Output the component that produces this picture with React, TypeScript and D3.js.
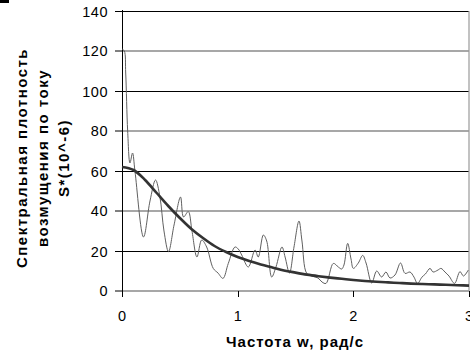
import * as d3 from 'd3'

// измеренная спектральная плотность (частота, значение)
const measW = [0, 0.02, 0.032, 0.049, 0.069, 0.091, 0.112, 0.186, 0.242, 0.29, 0.328, 0.363, 0.402, 0.45, 0.506, 0.532, 0.573, 0.605, 0.648, 0.689, 0.732, 0.789, 0.83, 0.873, 0.919, 0.977, 1.005, 1.035, 1.092, 1.15, 1.178, 1.222, 1.251, 1.294, 1.331, 1.383, 1.41, 1.448, 1.487, 1.53, 1.556, 1.597, 1.643, 1.695, 1.729, 1.764, 1.827, 1.87, 1.899, 1.919, 1.951, 1.98, 2.0, 2.043, 2.081, 2.11, 2.159, 2.202, 2.245, 2.282, 2.317, 2.36, 2.408, 2.447, 2.49, 2.524, 2.555, 2.594, 2.623, 2.663, 2.689, 2.732, 2.758, 2.792, 2.827, 2.875, 2.922, 2.952, 2.994]
const measS = [121, 120, 109, 80, 64, 69, 60, 27, 45, 55.5, 47, 30, 19.7, 33, 47, 37, 39.7, 30, 17, 25.5, 22, 11.3, 9, 6.3, 13.8, 22, 21, 18, 12, 20.5, 17, 28, 25, 7, 12, 22, 17, 9, 22, 35, 25, 8.8, 7.5, 6.5, 4.5, 3.8, 13.8, 12, 11, 13, 23.8, 16, 11.3, 14, 17.8, 14, 4, 10, 7, 9.5, 6.5, 8, 14, 8.8, 9.5, 7, 3.8, 7, 8.5, 11.3, 9.5, 10.5, 11.3, 9.5, 7.5, 3.8, 9.7, 7.5, 10.5]

// теоретическая кривая
const theoryW = [0, 0.1, 0.2, 0.3, 0.4, 0.5, 0.6, 0.7, 0.8, 0.9, 1.0, 1.1, 1.2, 1.3, 1.4, 1.5, 1.6, 1.7, 1.8, 1.9, 2.0, 2.1, 2.2, 2.3, 2.4, 2.5, 2.6, 2.7, 2.8, 2.9, 3.0]
const theoryS = [62, 60.5, 55.5, 49, 42.5, 36.5, 31, 26.5, 22.5, 19.5, 17, 15, 13.3, 11.8, 10.3, 9.2, 8.2, 7.4, 6.7, 6.1, 5.5, 5, 4.6, 4.3, 4, 3.7, 3.5, 3.3, 3.1, 2.9, 2.7]

const yTicks = [0, 20, 40, 60, 80, 100, 120, 140]
const xTicks = [0, 1, 2, 3]
const yTitle = ['Спектральная плотность', 'возмущения по току', 'S*(10^-6)']
const xTitle = 'Частота w, рад/с'

export default function App() {
  const left = 122, right = 469, top = 11, bottom = 291
  const x = d3.scaleLinear().domain([0, 3]).range([left, right])
  const y = d3.scaleLinear().domain([0, 140]).range([bottom, top])

  const meas = measW.map((w, i) => [w, measS[i]] as [number, number])
  const theory = theoryW.map((w, i) => [w, theoryS[i]] as [number, number])

  const measLine = d3.line<[number, number]>()
    .x(d => x(d[0])).y(d => y(d[1]))
    .curve(d3.curveCatmullRom.alpha(0.5))
  const theoryLine = d3.line<[number, number]>()
    .x(d => x(d[0])).y(d => y(d[1]))
    .curve(d3.curveMonotoneX)

  const font = '"Liberation Sans", Arial, sans-serif'

  return (
    <svg width={470} height={355} style={{ position: 'absolute', left: 0, top: 0, background: '#fff' }}
      fontFamily={font}>
      <rect x={0} y={0} width={9} height={3} fill="#000" />

      {yTicks.map(t => {
        const gray = t % 40 === 0
        const yy = Math.round(y(t)) + (gray ? 0 : 0.5)
        return (
          <g key={t}>
            <line x1={left} x2={right} y1={yy} y2={yy}
              stroke={gray ? '#8a8a8a' : '#000'} strokeWidth={gray ? 1.4 : 1} />
            <line x1={left - 7} x2={left} y1={yy} y2={yy} stroke="#000" />
            <text x={108} y={yy + 5} textAnchor="end" fontSize={14.5} letterSpacing={0.5}>{t}</text>
          </g>
        )
      })}
      <line x1={right} x2={right} y1={top} y2={bottom} stroke="#999" strokeWidth={1.2} />
      <line x1={left + 0.5} x2={left + 0.5} y1={top - 1} y2={bottom + 1} stroke="#000" />

      {xTicks.map(t => (
        <g key={t}>
          <line x1={Math.round(x(t)) + 0.5} x2={Math.round(x(t)) + 0.5} y1={bottom} y2={bottom + 6} stroke="#000" />
          <text x={x(t)} y={321} textAnchor="middle" fontSize={14.5}>{t}</text>
        </g>
      ))}

      <path d={measLine(meas) ?? ''} fill="none" stroke="#606060" strokeWidth={1} />
      <path d={theoryLine(theory) ?? ''} fill="none" stroke="#333" strokeWidth={2.6} />

      <g transform="translate(0,158) rotate(-90)" fontWeight="bold" fontSize={15} letterSpacing={1.5} textAnchor="middle">
        {yTitle.map((s, i) => (
          <text key={i} x={0} y={27 + i * 21}>{s}</text>
        ))}
      </g>
      <text x={295} y={347} textAnchor="middle" fontWeight="bold" fontSize={15} letterSpacing={1}>{xTitle}</text>
    </svg>
  )
}
